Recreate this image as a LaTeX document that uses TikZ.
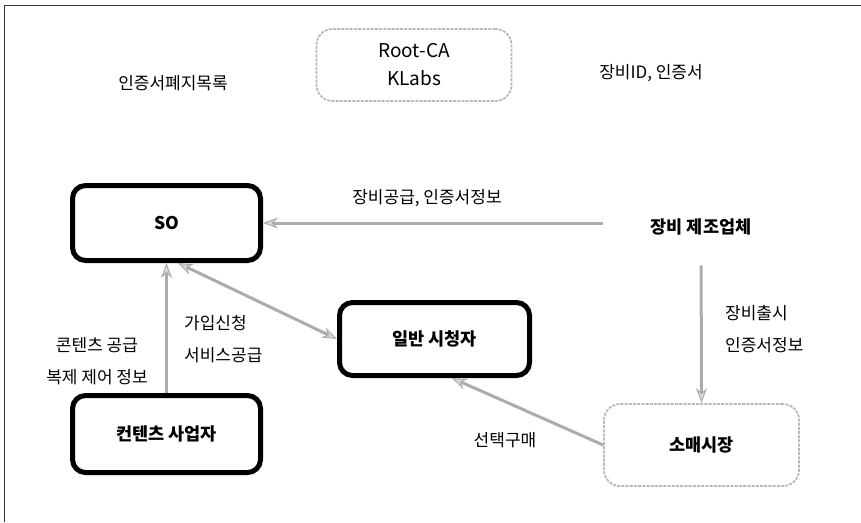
\documentclass[tikz,border=0pt]{standalone}
\usepackage{fontspec}
\setmainfont{Noto Sans CJK KR}
\usetikzlibrary{arrows.meta}
\begin{document}
\begin{tikzpicture}[x=1pt,y=-1pt,
  thickbox/.style={draw=black, line width=5pt, rounded corners=13pt, inner sep=0pt,
    font=\bfseries\fontsize{17.5}{20}\selectfont},
  softbox/.style={draw=gray!55, line width=1.8pt, dash pattern=on 3pt off 1.2pt,
    rounded corners=16pt, inner sep=0pt},
  lbl/.style={font=\fontsize{17}{32}\selectfont, inner sep=0pt},
  blbl/.style={font=\bfseries\fontsize{17.5}{20}\selectfont, inner sep=0pt},
  arr/.style={draw=gray!65, line width=3pt,
    -{Stealth[length=15pt, width=11pt, line width=1pt, fill=gray!30]}},
  darr/.style={draw=gray!65, line width=3pt,
    {Stealth[length=15pt, width=11pt, line width=1pt, fill=gray!30]}-{Stealth[length=15pt, width=11pt, line width=1pt, fill=gray!30]}}
]
\useasboundingbox (0,0) rectangle (861,522);
% frame (top and left edges)
\draw[line width=1pt, black!80] (4,522) -- (4,5) -- (861,5);

% nodes
\node[softbox, minimum width=195pt, minimum height=72pt,
  font=\fontsize{19}{28}\selectfont, align=center] (root) at (414,65) {Root-CA\\KLabs};
\node[lbl] (revoke) at (173,83) {인증서폐지목록};
\node[lbl] (devid) at (651,73) {장비ID, 인증서};

\node[thickbox, minimum width=188pt, minimum height=75pt] (so) at (166.5,223) {SO};
\node[blbl] (maker) at (701,227) {장비 제조업체};
\node[thickbox, minimum width=190pt, minimum height=73pt] (viewer) at (434.5,339) {일반 시청자};
\node[thickbox, minimum width=188pt, minimum height=77pt] (content) at (166.5,434) {컨텐츠 사업자};
\node[softbox, minimum width=195pt, minimum height=82pt,
  font=\bfseries\fontsize{17.5}{20}\selectfont] (retail) at (701.5,445) {소매시장};

% labels
\node[lbl] (lsupply) at (427,198) {장비공급, 인증서정보};
\node[lbl, align=left, anchor=west] (lrelease) at (725,329) {장비출시\\인증서정보};
\node[lbl, align=center] (lcontent) at (97,361) {콘텐츠 공급\\복제 제어 정보};
\node[lbl, align=left, anchor=west] (ljoin) at (184,339) {가입신청\\서비스공급};
\node[lbl] (lbuy) at (505,440) {선택구매};

% connectors
\draw[arr, shorten <=48pt] (so.east -| maker.west) -- (so.east);
\draw[arr, shorten <=30pt] (maker.south) -- (retail.north);
\draw[arr] (content.north) -- (so.south);
\draw[darr] (so.-74) -- (viewer.west);
\draw[arr] (retail.west) -- (viewer.-66);
\end{tikzpicture}
\end{document}
